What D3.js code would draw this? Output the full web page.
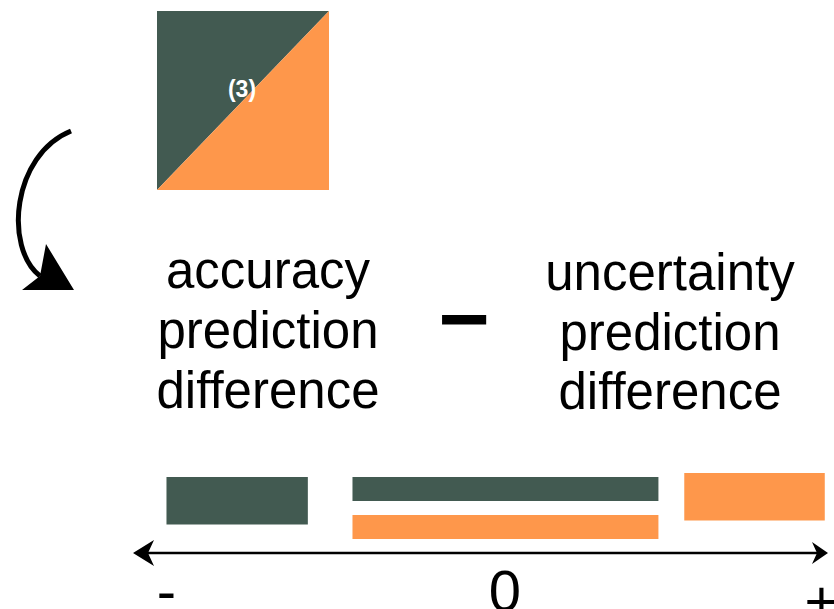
<!DOCTYPE html>
<html>
<head>
<meta charset="utf-8">
<script src="https://cdn.jsdelivr.net/npm/d3@7"></script>
<style>
  html, body { margin: 0; padding: 0; background: #fff; }
  svg { display: block; }
  text { font-family: "Liberation Sans", Arial, Helvetica, sans-serif; }
</style>
</head>
<body>
<svg id="chart" width="834" height="609"></svg>
<script>
// ---- data ----
const seriesNames = ["accuracy", "uncertainty"];
const seriesColors = ["#425a51", "#fe974b"];
const leftLabel = ["accuracy", "prediction", "difference"];
const rightLabel = ["uncertainty", "prediction", "difference"];
const operatorLabel = "\u2212";
const squareLabel = "(3)";
// bars along the difference axis (units: -100 .. 100)
const barSeries = ["accuracy", "accuracy", "uncertainty", "uncertainty"];
const barLane = ["full", "upper", "lower", "full"];
const barStart = [-91, -41, -41, 55.5];
const barEnd = [-53, 47.5, 47.5, 99];
const tickValues = [-91, 0, 98];
const tickLabels = ["-", "0", "+"];

// ---- drawing ----
const svg = d3.select("#chart");
const color = d3.scaleOrdinal().domain(seriesNames).range(seriesColors);
const x = d3.scaleLinear().domain([-100, 0, 100]).range([133, 505, 828]);

// square split diagonally
const sq = { x0: 157, y0: 11, x1: 329, y1: 190 };
svg.append("path")
  .attr("d", `M${sq.x0},${sq.y0}L${sq.x1},${sq.y0}L${sq.x0},${sq.y1}Z`)
  .attr("fill", color("accuracy"));
svg.append("path")
  .attr("d", `M${sq.x1},${sq.y0}L${sq.x1},${sq.y1}L${sq.x0},${sq.y1}Z`)
  .attr("fill", color("uncertainty"));
svg.append("text")
  .attr("x", 242).attr("y", 97)
  .attr("text-anchor", "middle")
  .attr("font-size", 23).attr("font-weight", "bold")
  .attr("fill", "#fff")
  .text(squareLabel);

// curved arrow
svg.append("path")
  .attr("d", "M71,131 C12,155 4,248 40,276")
  .attr("fill", "none").attr("stroke", "#000").attr("stroke-width", 5);
svg.append("path")
  .attr("d", "M74,290 L46,244 L40,276 L22,290 Z")
  .attr("fill", "#000");

// label blocks
function block(lines, cx, baselines) {
  svg.append("g").selectAll("text").data(lines).join("text")
    .attr("x", cx)
    .attr("y", (d, i) => baselines[i])
    .attr("text-anchor", "middle")
    .attr("font-size", 51)
    .attr("fill", "#000")
    .text(d => d);
}
block(leftLabel, 268, [288, 348, 408]);
block(rightLabel, 670, [290, 350, 409]);

svg.append("text")
  .attr("x", 464).attr("y", 349)
  .attr("text-anchor", "middle")
  .attr("font-size", 88).attr("font-weight", "bold")
  .attr("fill", "#000")
  .text(operatorLabel);

// bars
const laneY = { full: null, upper: [477, 501], lower: [515, 539] };
const bars = barSeries.map((s, i) => ({ s, lane: barLane[i], a: barStart[i], b: barEnd[i] }));
svg.append("g").selectAll("rect").data(bars).join("rect")
  .attr("x", d => x(d.a))
  .attr("width", d => x(d.b) - x(d.a))
  .attr("y", d => d.lane === "full" ? (d.s === "accuracy" ? 477 : 473) : laneY[d.lane][0])
  .attr("height", d => d.lane === "full" ? 47.5 : 24)
  .attr("fill", d => color(d.s));

// axis with arrows
const axisY = 553;
svg.append("line")
  .attr("x1", x(-100) + 8).attr("x2", x(100) - 8)
  .attr("y1", axisY).attr("y2", axisY)
  .attr("stroke", "#000").attr("stroke-width", 2.5);
svg.append("path")
  .attr("d", `M${x(-100)},${axisY} L${x(-100) + 21},${axisY - 13} L${x(-100) + 15},${axisY} L${x(-100) + 21},${axisY + 13} Z`)
  .attr("fill", "#000");
svg.append("path")
  .attr("d", `M${x(100)},${axisY} L${x(100) - 16},${axisY - 11} L${x(100) - 11},${axisY} L${x(100) - 16},${axisY + 11} Z`)
  .attr("fill", "#000");

svg.append("g").selectAll("text").data(tickValues).join("text")
  .attr("x", d => x(d))
  .attr("y", (d, i) => i === 2 ? 621 : 611)
  .attr("text-anchor", "middle")
  .attr("font-size", 58)
  .attr("fill", "#000")
  .text((d, i) => tickLabels[i]);
</script>
</body>
</html>
